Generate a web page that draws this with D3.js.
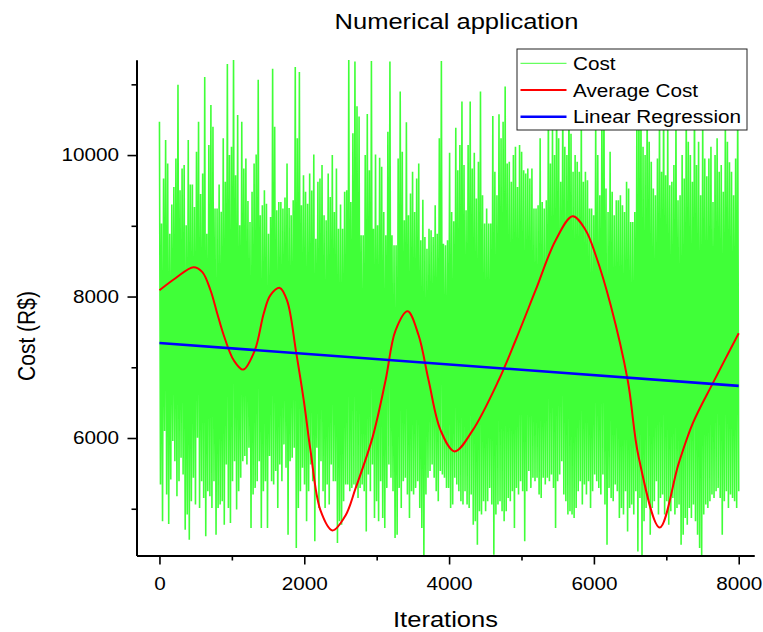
<!DOCTYPE html>
<html><head><meta charset="utf-8">
<script src="https://cdn.jsdelivr.net/npm/d3@7"></script>
<style>
body{margin:0;background:#fff}
svg{display:block}
</style>
</head><body><svg id="chart" width="763" height="632"></svg>
<script>
// ---------- DATA ----------
// Upper spike tips of the noisy "Cost" series, left to right
const costPeaks = [
10472,9031,9669,10213,9882,8889,9300,9550,9953,10993,
9503,9811,9858,9007,10213,9584,9584,9266,10047,10472,
9450,9740,11102,8889,10142,10709,10401,9243,9243,9584,
9200,10236,9621,11286,10000,10118,11400,9716,10567,9007,
10472,9811,9953,9350,9055,9480,9882,10009,11064,9150,
9290,9503,9313,8889,9125,11220,10401,9220,9337,9337,
9243,9400,9882,9250,9149,9361,11244,10236,11173,9290,
9716,9480,9313,9740,9500,10009,8818,9621,9669,9858,
9149,9078,9740,9408,10000,9196,9811,8960,9300,8960,
9480,9503,11400,9337,
10307,11323,10690,10544,8866,8866,10000,10580,9787,11330,
8960,10009,9007,9962,9835,9196,8866,10330,11323,8866,
8724,8724,9953,10898,10047,9078,10463,9149,9456,9764,
9196,9669,9882,8795,9370,8842,8676,8960,8936,8842,
9290,8889,10236,11330,8747,8724,8795,10033,9196,9063,
10387,9787,10142,10756,9858,9220,10142,10756,9811,10033,
9385,9906,10898,9432,9031,9243,9031,9031,10553,9764,
9432,10576,10236,10472,10969,9882,9906,9621,10000,10118,
9550,10142,10047,9787,9740,9811,9669,9811,9243,9243,
9290,10236,9337,9243,9361,
10800,9882,10400,10000,11000,10236,9621,10900,10118,10000,
11200,10300,9764,10000,9906,9764,10600,9621,9764,9645,
9243,9243,9149,10500,10000,9432,10700,11100,9527,9196,
10047,9480,9149,9361,9361,9432,9290,9196,9621,9527,
9055,9055,9196,10600,11000,10800,10118,10000,10900,10190,
9906,9527,9432,9953,10700,9764,11000,9716,10500,9574,
9621,9858,10600,9361,9432,10000,9669,10800,10190,10000,
9621,11000,9858,10190,9432,10600,9953,9700,9953,10118,9337,
10000,10236,9764,9858,9480,10500,10190,9900,9764,9432,9953,
10800,9480,8771
];
// Lower spike tips of the noisy "Cost" series, left to right
const costTroughs = [
5342,4822,6099,5200,4784,5413,5957,5673,5177,5390,
5721,5484,4704,4917,4562,5106,5437,5059,6004,5011,
5390,5153,4610,5248,5177,5011,5390,4633,5011,5059,
5106,4775,5626,5011,4799,5390,5673,4988,5248,5437,
5673,5744,5626,5862,4728,5200,5295,5390,5673,4728,
5248,5390,4728,5744,5390,5342,5532,5011,5626,5390,
5910,5579,4633,5673,5721,5862,4444,5011,5248,5579,
5342,4822,5248,5626,5390,4539,5862,5011,5673,5248,
5011,5342,5059,5626,5390,5390,4515,4822,4775,5106,
5342,5342,5248,5295,5342,5295,5153,5295,5342,
5248,4680,5484,5248,5626,4870,5106,4822,5390,4870,
4728,5295,5626,5437,5248,4586,4633,5295,5011,5390,
5437,5200,4870,5248,5200,5295,5390,5011,4728,4300,
5200,5437,5532,5626,5437,5248,5106,5532,5484,5437,
5295,5295,5011,5059,5437,5342,5248,5106,5059,5248,
5059,5011,5200,4775,4822,4491,4964,4917,5106,4964,
5106,5295,5059,4350,4917,5059,5106,4964,4822,4964,
5153,5106,5248,4728,5295,5200,5390,5248,4539,5248,
5532,5295,5437,5390,5437,5200,5153,5437,5342,5437,
5390,5484,5295,4728,5390,
5484,5673,5200,5106,4917,4964,4917,4870,5011,5248,
5390,5059,5342,5200,5390,5011,5248,5484,5390,5295,
5200,5484,5059,4491,5295,5153,5106,5342,5248,4870,
5011,4917,5248,4680,5011,5059,4917,5248,4397,5153,
4300,4822,5011,5153,4633,5011,5106,5390,4917,5153,
5200,4917,5106,4775,4964,5153,4917,5011,5059,4491,
4633,4870,4775,5011,4870,5059,4822,4633,4444,4300,
4917,5059,5011,5106,5200,5153,5248,5295,5153,4633,
5106,5248,5011,5200,5153,5106,5011,5248
];
// Smoothed "Average Cost" curve (iteration, cost)
const avgIterations = [0,221,470,590,705,797,888,1026,1156,1317,1441,1533,1662,1764,1888,1994,2086,2224,2390,2570,2708,2943,3123,3261,3427,3579,3717,3883,4076,4325,4684,4919,5195,5472,5707,5886,6025,6232,6467,6619,6909,7171,7365,7641,8000];
const avgCost = [8089,8259,8415,8348,8089,7764,7453,7099,6967,7240,7764,8019,8122,7939,7210,6525,5825,4976,4693,4905,5287,6009,6816,7523,7792,7452,6816,6108,5811,6108,6816,7382,8089,8797,9136,8938,8584,7877,6816,5726,4735,5641,6207,6773,7481];
// Linear regression end points
const regIterations = [0, 8000];
const regCost = [7343, 6737];
// Axes
const xTicks = [0, 2000, 4000, 6000, 8000];
const xMinorTicks = [1000, 3000, 5000, 7000];
const yTicks = [6000, 8000, 10000];
const yMinorTicks = [5000, 7000, 9000, 11000];
const xDomain = [-317, 8211];
const yDomain = [4339, 11344];
const titleText = "Numerical application";
const xLabel = "Iterations";
const yLabel = "Cost (R$)";
const legendLabels = ["Cost", "Average Cost", "Linear Regression"];

// ---------- STYLE ----------
const FONT = '"Liberation Sans", Arial, Helvetica, sans-serif';
const SX = 1.12; // horizontal stretch of the text in the reference
const cGreen = "rgb(64,255,56)", cRed = "#ff0000", cBlue = "#0000ff";
const plot = {left: 136.5, right: 754, top: 60, bottom: 555.5};

const svg = d3.select("#chart");
const x = d3.scaleLinear().domain(xDomain).range([plot.left, plot.right]);
const y = d3.scaleLinear().domain(yDomain).range([plot.bottom, plot.top]);

svg.append("defs").append("clipPath").attr("id", "clip")
  .append("rect").attr("x", plot.left).attr("y", plot.top)
  .attr("width", plot.right - plot.left).attr("height", plot.bottom - plot.top);

// Cost series: alternate peak / trough
const n = Math.min(costPeaks.length, costTroughs.length);
const costSeries = [];
for (let i = 0; i < n; i++) { costSeries.push(costPeaks[i], costTroughs[i]); }
const costData = costSeries.map((v, k) => [k * 8000 / (costSeries.length - 1), v]);

const g = svg.append("g").attr("clip-path", "url(#clip)");
g.append("path").datum(costData)
  .attr("d", d3.line().x(d => x(d[0])).y(d => y(d[1])))
  .attr("fill", "none").attr("stroke", cGreen).attr("stroke-width", 1.6)
  .attr("stroke-linejoin", "bevel");

const avgData = avgIterations.map((t, i) => [t, avgCost[i]]);
g.append("path").datum(avgData)
  .attr("d", d3.line().curve(d3.curveCatmullRom.alpha(0.5)).x(d => x(d[0])).y(d => y(d[1])))
  .attr("fill", "none").attr("stroke", cRed).attr("stroke-width", 2);

const regData = regIterations.map((t, i) => [t, regCost[i]]);
g.append("path").datum(regData)
  .attr("d", d3.line().x(d => x(d[0])).y(d => y(d[1])))
  .attr("fill", "none").attr("stroke", cBlue).attr("stroke-width", 2.6);

// Axes
function styleAxis(sel) {
  sel.selectAll("path.domain").attr("stroke", "#000").attr("stroke-width", 2);
  sel.selectAll(".tick line").attr("stroke", "#000").attr("stroke-width", 1.6);
  sel.selectAll("text").attr("font-family", FONT).attr("font-size", 18.5).attr("fill", "#000");
}
const yAxisMinor = svg.append("g").attr("transform", `translate(${plot.left},0)`)
  .call(d3.axisLeft(y).tickValues(yMinorTicks).tickSize(5).tickSizeOuter(0).tickFormat(""));
const yAxis = svg.append("g").attr("transform", `translate(${plot.left},0)`)
  .call(d3.axisLeft(y).tickValues(yTicks).tickSize(9).tickSizeOuter(0).tickPadding(6.6).tickFormat(d3.format("d")));
const xAxisMinor = svg.append("g").attr("transform", `translate(0,${plot.bottom})`)
  .call(d3.axisBottom(x).tickValues(xMinorTicks).tickSize(5).tickSizeOuter(0).tickFormat(""));
const xAxis = svg.append("g").attr("transform", `translate(0,${plot.bottom})`)
  .call(d3.axisBottom(x).tickValues(xTicks).tickSize(9).tickSizeOuter(0).tickPadding(12).tickFormat(d3.format("d")));
[yAxisMinor, yAxis, xAxisMinor, xAxis].forEach(styleAxis);
yAxis.selectAll("text").attr("transform", `scale(${SX},1)`);
xAxis.selectAll("text").attr("transform", `scale(${SX},1)`);

// Titles
function addText(txt, tx, ty, size, anchor, rot) {
  return svg.append("text")
    .attr("transform", `translate(${tx},${ty}) scale(${SX},1)` + (rot ? ` rotate(${rot})` : ""))
    .attr("font-family", FONT).attr("font-size", size)
    .attr("text-anchor", anchor).attr("fill", "#000").text(txt);
}
addText(titleText, 456.5, 29, 22.8, "middle");
addText(xLabel, 445.5, 627, 22.8, "middle");
addText(yLabel, 35, 336, 21, "middle", -90);

// Legend
const lg = svg.append("g");
lg.append("rect").attr("x", 517).attr("y", 49).attr("width", 230).attr("height", 81)
  .attr("fill", "#fff").attr("stroke", "#222").attr("stroke-width", 1);
const legendColors = [cGreen, cRed, cBlue];
const legendWidths = [1, 2, 2.6];
legendLabels.forEach((lab, i) => {
  const ly = 63.3 + i * 26.7;
  lg.append("line").attr("x1", 520.5).attr("x2", 566.5).attr("y1", ly).attr("y2", ly)
    .attr("stroke", legendColors[i]).attr("stroke-width", legendWidths[i]);
  lg.append("text").attr("transform", `translate(573,${ly + 6.7}) scale(${SX},1)`)
    .attr("font-family", FONT).attr("font-size", 18.5).attr("fill", "#000").text(lab);
});
</script>
</body></html>
